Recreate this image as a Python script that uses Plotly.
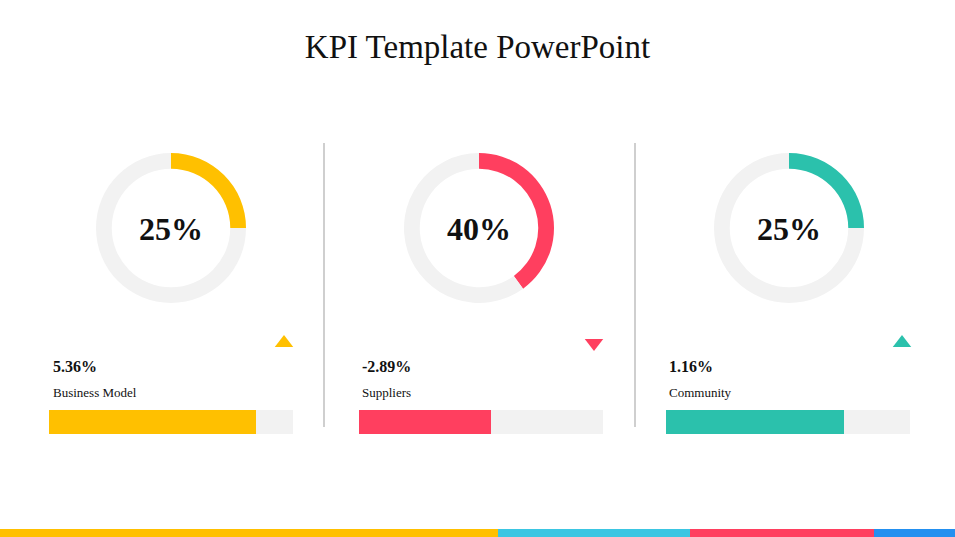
import plotly.graph_objects as go

# KPI data
kpi_names = ["Business Model", "Suppliers", "Community"]
kpi_share = [25, 40, 25]            # donut percentages
kpi_change = [5.36, -2.89, 1.16]    # change vs. previous period (%)
kpi_progress = [85, 54, 73]         # progress bar fill (%)
kpi_colors = ["#FFC000", "#FF3F5F", "#2BC1AC"]

strip_values = [498, 192, 184, 81]
strip_colors = ["#FFC000", "#3BC6E2", "#FF3F5F", "#2390F0"]

W, H = 955, 537
TRACK = "#F2F2F2"
SERIF = "Liberation Serif"

def px_x(a, b):
    return [a / W, b / W]

def px_y(top, bottom):
    return [1 - bottom / H, 1 - top / H]

donut_cx = [171, 479, 789]
bar_x0 = [49, 359, 666]
bar_w = 244
text_x = [51, 360, 667]
tri_x = [284, 594, 902]

fig = go.Figure()

# donuts
for i in range(3):
    cx = donut_cx[i]
    fig.add_trace(go.Pie(
        values=[kpi_share[i], 100 - kpi_share[i]],
        marker=dict(colors=[kpi_colors[i], TRACK], line=dict(width=0)),
        hole=0.79, sort=False, direction="clockwise", rotation=0,
        textinfo="none", hoverinfo="skip", showlegend=False,
        domain=dict(x=px_x(cx - 75, cx + 75), y=px_y(153, 303)),
    ))
    fig.add_annotation(x=cx / W, y=1 - 229 / H, xref="paper", yref="paper",
                       xanchor="center", yanchor="middle",
                       text=f"<b>{kpi_share[i]}%</b>", showarrow=False,
                       font=dict(family=SERIF, size=32, color="#111111"))

# progress bars, each on its own small axis
for i in range(3):
    n = "" if i == 0 else str(i + 1)
    xa, ya = "x" + n, "y" + n
    fig.add_trace(go.Bar(y=[0], x=[100], orientation="h", width=1,
                         marker=dict(color=TRACK, line=dict(width=0)),
                         xaxis=xa, yaxis=ya, hoverinfo="skip", showlegend=False))
    fig.add_trace(go.Bar(y=[0], x=[kpi_progress[i]], orientation="h", width=1,
                         marker=dict(color=kpi_colors[i], line=dict(width=0)),
                         xaxis=xa, yaxis=ya, hoverinfo="skip", showlegend=False))
    axis_common = dict(visible=False, fixedrange=True)
    fig.update_layout(**{
        "xaxis" + n: dict(domain=px_x(bar_x0[i], bar_x0[i] + bar_w), range=[0, 100], **axis_common),
        "yaxis" + n: dict(domain=px_y(410, 434), range=[-0.5, 0.5], anchor=xa, **axis_common),
    })
    fig.add_annotation(x=text_x[i] / W, y=1 - 366 / H, xref="paper", yref="paper",
                       xanchor="left", yanchor="middle",
                       text=f"<b>{kpi_change[i]:.2f}%</b>", showarrow=False,
                       font=dict(family=SERIF, size=16, color="#111111"))
    fig.add_annotation(x=text_x[i] / W, y=1 - 392 / H, xref="paper", yref="paper",
                       xanchor="left", yanchor="middle", text=kpi_names[i], showarrow=False,
                       font=dict(family=SERIF, size=13, color="#111111"))

# up / down triangles on a full-canvas overlay axis
fig.add_trace(go.Scatter(
    x=tri_x, y=[343] * 3, mode="markers", xaxis="x4", yaxis="y4",
    marker=dict(symbol=["triangle-up" if c >= 0 else "triangle-down" for c in kpi_change],
                color=kpi_colors, size=16, line=dict(width=0)),
    hoverinfo="skip", showlegend=False,
))
fig.update_layout(
    xaxis4=dict(domain=[0, 1], range=[0, W], visible=False, fixedrange=True),
    yaxis4=dict(domain=[0, 1], range=[H, 0], visible=False, fixedrange=True, anchor="x4"),
)

# separators
for sx in [324, 635]:
    fig.add_shape(type="line", xref="paper", yref="paper",
                  x0=sx / W, x1=sx / W, y0=1 - 427 / H, y1=1 - 143 / H,
                  line=dict(color="#CFCFCF", width=2))

# bottom colour strip
x0 = 0
for v, c in zip(strip_values, strip_colors):
    fig.add_shape(type="rect", xref="paper", yref="paper",
                  x0=x0 / W, x1=(x0 + v) / W, y0=0, y1=8 / H,
                  fillcolor=c, line=dict(width=0))
    x0 += v

fig.update_layout(
    width=W, height=H,
    margin=dict(l=0, r=0, t=0, b=0),
    paper_bgcolor="white", plot_bgcolor="rgba(0,0,0,0)",
    barmode="overlay", bargap=0,
    title=dict(text="KPI Template PowerPoint", x=0.5, xanchor="center",
               y=1 - 46 / H, yanchor="middle",
               font=dict(family=SERIF, size=33, color="#111111")),
)

fig.write_html("out.html", config={"displayModeBar": False},
               post_script="document.body.style.margin='0';")
